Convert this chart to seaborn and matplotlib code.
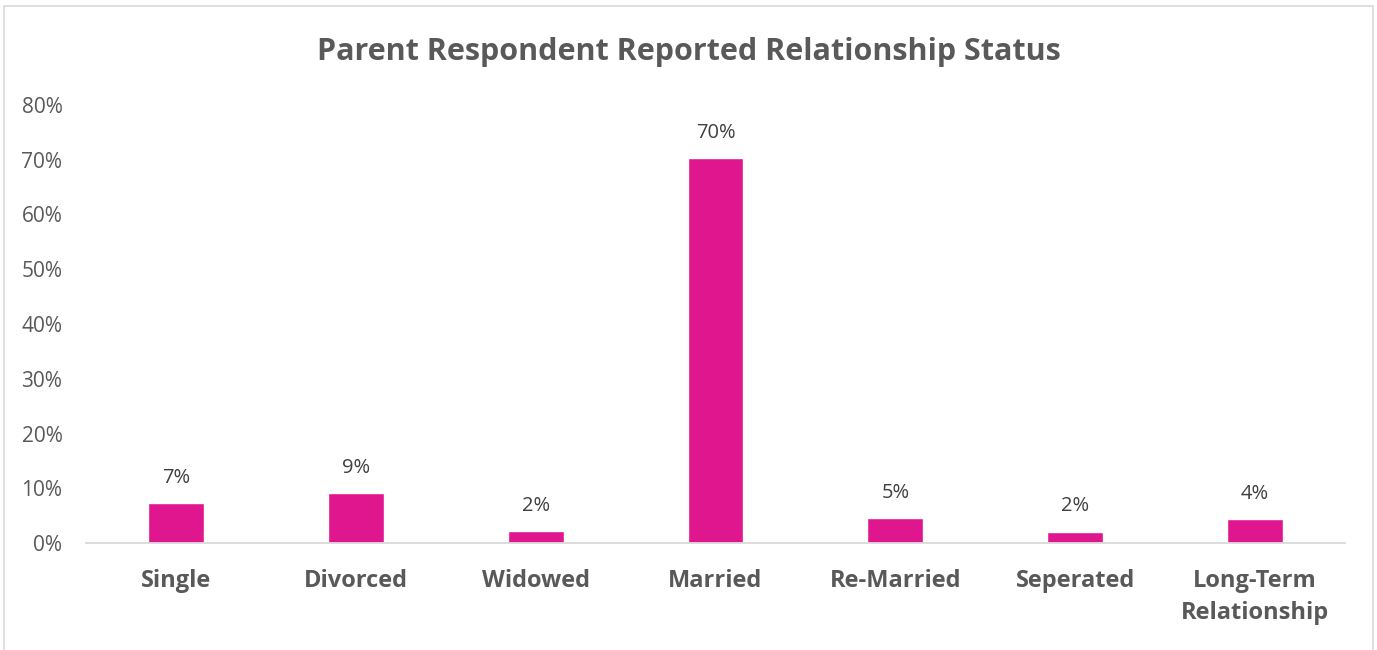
import matplotlib
matplotlib.use("Agg")
import matplotlib.pyplot as plt
from matplotlib.patches import Rectangle
from matplotlib.ticker import PercentFormatter
import seaborn as sns
import pandas as pd

categories = ["Single", "Divorced", "Widowed", "Married", "Re-Married",
              "Seperated", "Long-Term\nRelationship"]
shares = [0.073, 0.091, 0.022, 0.703, 0.046, 0.021, 0.043]
y_ticks = [0.0, 0.1, 0.2, 0.3, 0.4, 0.5, 0.6, 0.7, 0.8]
title = "Parent Respondent Reported Relationship Status"

df = pd.DataFrame({"status": categories, "share": shares})

sns.set_theme(style="white")
plt.rcParams["font.family"] = ["Open Sans", "DejaVu Sans"]

fig = plt.figure(figsize=(13.77, 6.5), dpi=100)
ax = fig.add_axes([86 / 1377, 1 - 543 / 650, (1345 - 86) / 1377, (543 - 105) / 650])

sns.barplot(data=df, x="status", y="share", color="#E0168F", width=0.31,
            saturation=1, ax=ax)

ax.set_xlim(-0.5, len(categories) - 0.5)
ax.set_ylim(0, 0.8)
ax.set_yticks(y_ticks)
ax.yaxis.set_major_formatter(PercentFormatter(1.0, decimals=0))
ax.set_xlabel("")
ax.set_ylabel("")

for side in ("top", "right", "left"):
    ax.spines[side].set_visible(False)
ax.spines["bottom"].set_color("#D9D9D9")
ax.spines["bottom"].set_linewidth(1.3)

ax.tick_params(axis="y", length=0, pad=17, labelsize=15, labelcolor="#595959")
ax.tick_params(axis="x", length=0, pad=19, labelsize=17, labelcolor="#595959")
for lbl in ax.get_xticklabels():
    lbl.set_fontweight("bold")
    lbl.set_linespacing(1.45)

for container in ax.containers:
    ax.bar_label(container, labels=[f"{v:.0%}" for v in shares], padding=11,
                 fontsize=14.5, color="#404040")

fig.text(0.5, 1 - 52 / 650, title, ha="center", va="center",
         fontsize=22, fontweight="bold", color="#595959")

fig.patches.append(Rectangle((4 / 1377, -0.05), 1369 / 1377, 1.05 - 6 / 650,
                             transform=fig.transFigure, fill=False,
                             edgecolor="#D9D9D9", linewidth=1.2))

fig.savefig("out.png", dpi=100, facecolor="white")
